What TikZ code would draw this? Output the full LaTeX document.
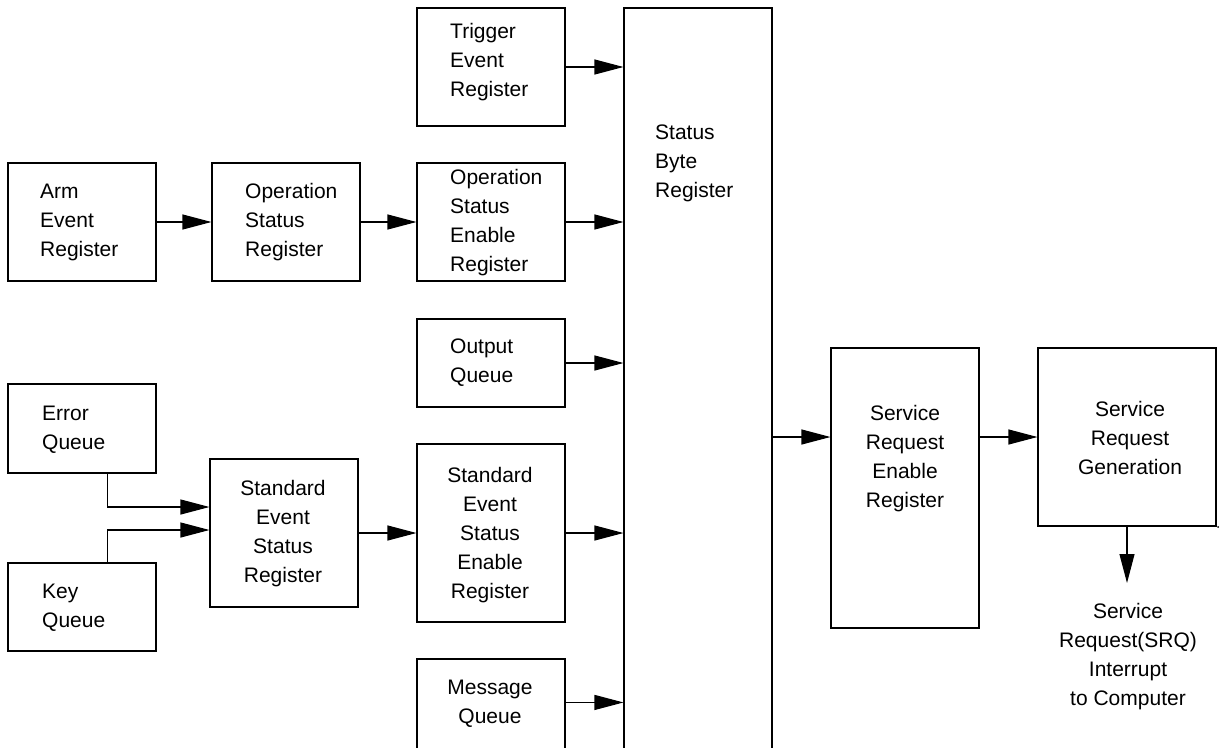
\documentclass[tikz,border=0pt]{standalone}
\usepackage{fontspec}
\setmainfont{Liberation Sans}
\usetikzlibrary{arrows.meta,calc}
\begin{document}
\begin{tikzpicture}[x=1pt,y=-1pt,
  box/.style={draw, line width=1.1pt, minimum width=148pt, inner sep=0pt},
  lbl/.style={font=\fontsize{21}{29}\selectfont, inner sep=0pt},
  conn/.style={line width=1.1pt, -{Triangle[length=29pt,width=15pt]}}]
\useasboundingbox (0,0) rectangle (1220,747);
\clip (0,0) rectangle (1220,747);
% boxes
\node[box, minimum height=118pt] (arm) at (82,222) {};
\node[box, minimum height=118pt] (ops) at (286,222) {};
\node[box, minimum height=118pt] (trig) at (491,67) {};
\node[box, minimum height=118pt] (opse) at (491,222) {};
\node[box, minimum height=88pt] (outq) at (491,363) {};
\node[box, minimum height=89pt] (err) at (82,428.5) {};
\node[box, minimum height=88pt] (key) at (82,607) {};
\node[box, minimum height=148pt] (sesr) at (284,533) {};
\node[box, minimum height=178pt] (seser) at (491,533) {};
\node[box, minimum height=120pt] (msgq) at (491,719) {};
\node[box, minimum height=772pt] (sbr) at (698,394) {};
\node[box, minimum height=280pt] (srer) at (905,488) {};
\node[box, minimum width=178pt, minimum height=178pt] (srg) at (1127,437) {};
% labels
\node[lbl, align=left, anchor=west] (armt) at (40,222) {Arm\\Event\\Register};
\node[lbl, align=left, anchor=west] (opst) at (245,222) {Operation\\Status\\Register};
\node[lbl, align=left, anchor=west] (trigt) at (450,62) {Trigger\\Event\\Register};
\node[lbl, align=left, anchor=west] (opset) at (450,223) {Operation\\Status\\Enable\\Register};
\node[lbl, align=left, anchor=west] (sbrt) at (655,163) {Status\\Byte\\Register};
\node[lbl, align=left, anchor=west] (outqt) at (450,363) {Output\\Queue};
\node[lbl, align=left, anchor=west] (errt) at (42,430) {Error\\Queue};
\node[lbl, align=left, anchor=west] (keyt) at (42,608) {Key\\Queue};
\node[lbl, align=center] (sesrt) at (283,534) {Standard\\Event\\Status\\Register};
\node[lbl, align=center] (sesert) at (490,535) {Standard\\Event\\Status\\Enable\\Register};
\node[lbl, align=center] (msgqt) at (490,704) {Message\\Queue};
\node[lbl, align=center] (srert) at (905,459) {Service\\Request\\Enable\\Register};
\node[lbl, align=center] (srgt) at (1130,438) {Service\\Request\\Generation};
\node[lbl, align=center] (srqt) at (1128,657) {Service\\Request(SRQ)\\Interrupt\\to Computer};
\coordinate (srqtop) at (1127,583);
% connectors
\draw[conn] (arm.east) -- (ops.west);
\draw[conn] (ops.east) -- (opse.west);
\draw[conn] (trig.east) -- (trig.east -| sbr.west);
\draw[conn] (opse.east) -- (opse.east -| sbr.west);
\draw[conn] (outq.east) -- (outq.east -| sbr.west);
\draw[conn] (seser.east) -- (seser.east -| sbr.west);
\draw[conn] ($(msgq.north east)+(0,44)$) -- ($(msgq.north east -| sbr.west)+(0,44)$);
\draw[conn] (sesr.east) -- (seser.west);
\draw[conn] ($(err.south west)+(100,0)$) |- ($(sesr.west)+(0,-26)$);
\draw[conn] ($(key.north west)+(100,0)$) |- ($(sesr.west)+(0,-3)$);
\draw[conn] (sbr.east |- srg.west) -- (srer.west |- srg.west);
\draw[conn] (srer.east |- srg.west) -- (srg.west);
\draw[conn] (srg.south) -- (srqtop);
\fill (1218,527) circle (1pt);
\end{tikzpicture}
\end{document}
